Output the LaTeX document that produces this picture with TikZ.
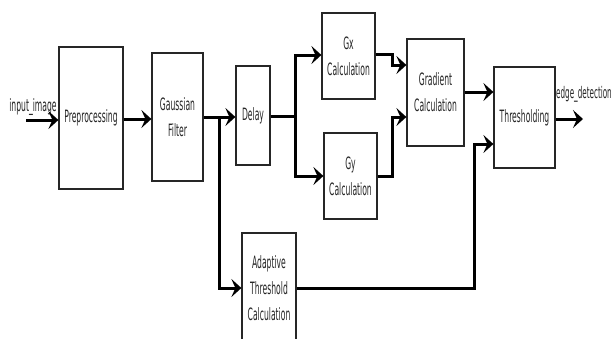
\documentclass[tikz,border=0pt]{standalone}
\usepackage{fontspec}
\usepackage{tikz}
\usetikzlibrary{arrows.meta}
\newfontfamily\diagfont[FakeStretch=0.45]{DejaVu Sans}
\colorlet{boxLine}{black!85}
\colorlet{boxText}{black!85}

\begin{document}
\begin{tikzpicture}[
  x=1pt,
  y=-1pt,
  every node/.style={
    font=\diagfont\fontsize{17}{26}\selectfont,
    text=boxText,
  },
  block/.style={
    draw=boxLine,
    line width=1.2pt,
    inner sep=0pt,
    align=center,
  },
  flow/.style={
    line width=3pt,
    -{Stealth[length=10pt,width=18pt,inset=4pt]},
  },
  wire/.style={
    line width=3pt,
  }
]
\useasboundingbox (0,0) rectangle (614,338);
\clip (0,0) rectangle (614,338);
% blocks
\foreach \n/\x/\y/\w/\h/\t in {
    pre/91/118/64/142/{Preprocessing},
    gauss/177.5/117/51/128/{Gaussian\\Filter},
    delay/253/115.5/34/99/{Delay},
    gx/348.5/56/53/86/{Gx\\Calculation},
    gy/350.5/176/53/86/{Gy\\Calculation},
    grad/435.5/92.5/57/107/{Gradient\\Calculation},
    thr/524.5/117.5/61/101/{Thresholding},
    adapt/269/288/54/110/{Adaptive\\Threshold\\Calculation}}
  \node[block,minimum width=\w,minimum height=\h] (\n) at (\x,\y) {\t};
% free ends and branch points
\coordinate (in) at (26,120);
\coordinate (out) at (583,119);
\coordinate (b1) at (219,117);
\coordinate (b2) at (295,116);
\coordinate (m1) at (392,0);
\coordinate (m2) at (474,0);
\node[anchor=center] (inlbl) at (33,107) {input\_image};
\node[anchor=east,inner sep=0pt,font=\diagfont\fontsize{16}{20}\selectfont]
  (outlbl) at (612,94) {edge\_detection};
% connectors
\draw[flow] (in) -- (in -| pre.west);
\draw[flow] (pre.east |- 0,119) -- (gauss.west |- 0,119);
\draw[flow] (gauss.east |- b1) -- (delay.west |- b1);
\draw[flow] (b1) |- (adapt.west);
\draw[wire] (delay.east |- b2) -- (b2);
\draw[flow] (b2) |- (gx.west |- 0,55);
\draw[flow] (b2) |- (gy.west);
\draw[flow] (gx.east |- 0,54) -| (m1 |- 0,65) -- (grad.west |- 0,65);
\draw[flow] (gy.east) -| (m1 |- 0,117) -- (grad.west |- 0,117);
\draw[flow] (grad.east |- 0,92) -- (thr.west |- 0,92);
\draw[flow] (adapt.east) -| (m2 |- 0,144) -- (thr.west |- 0,144);
\draw[flow] (thr.east |- out) -- (out);
\end{tikzpicture}
\end{document}
